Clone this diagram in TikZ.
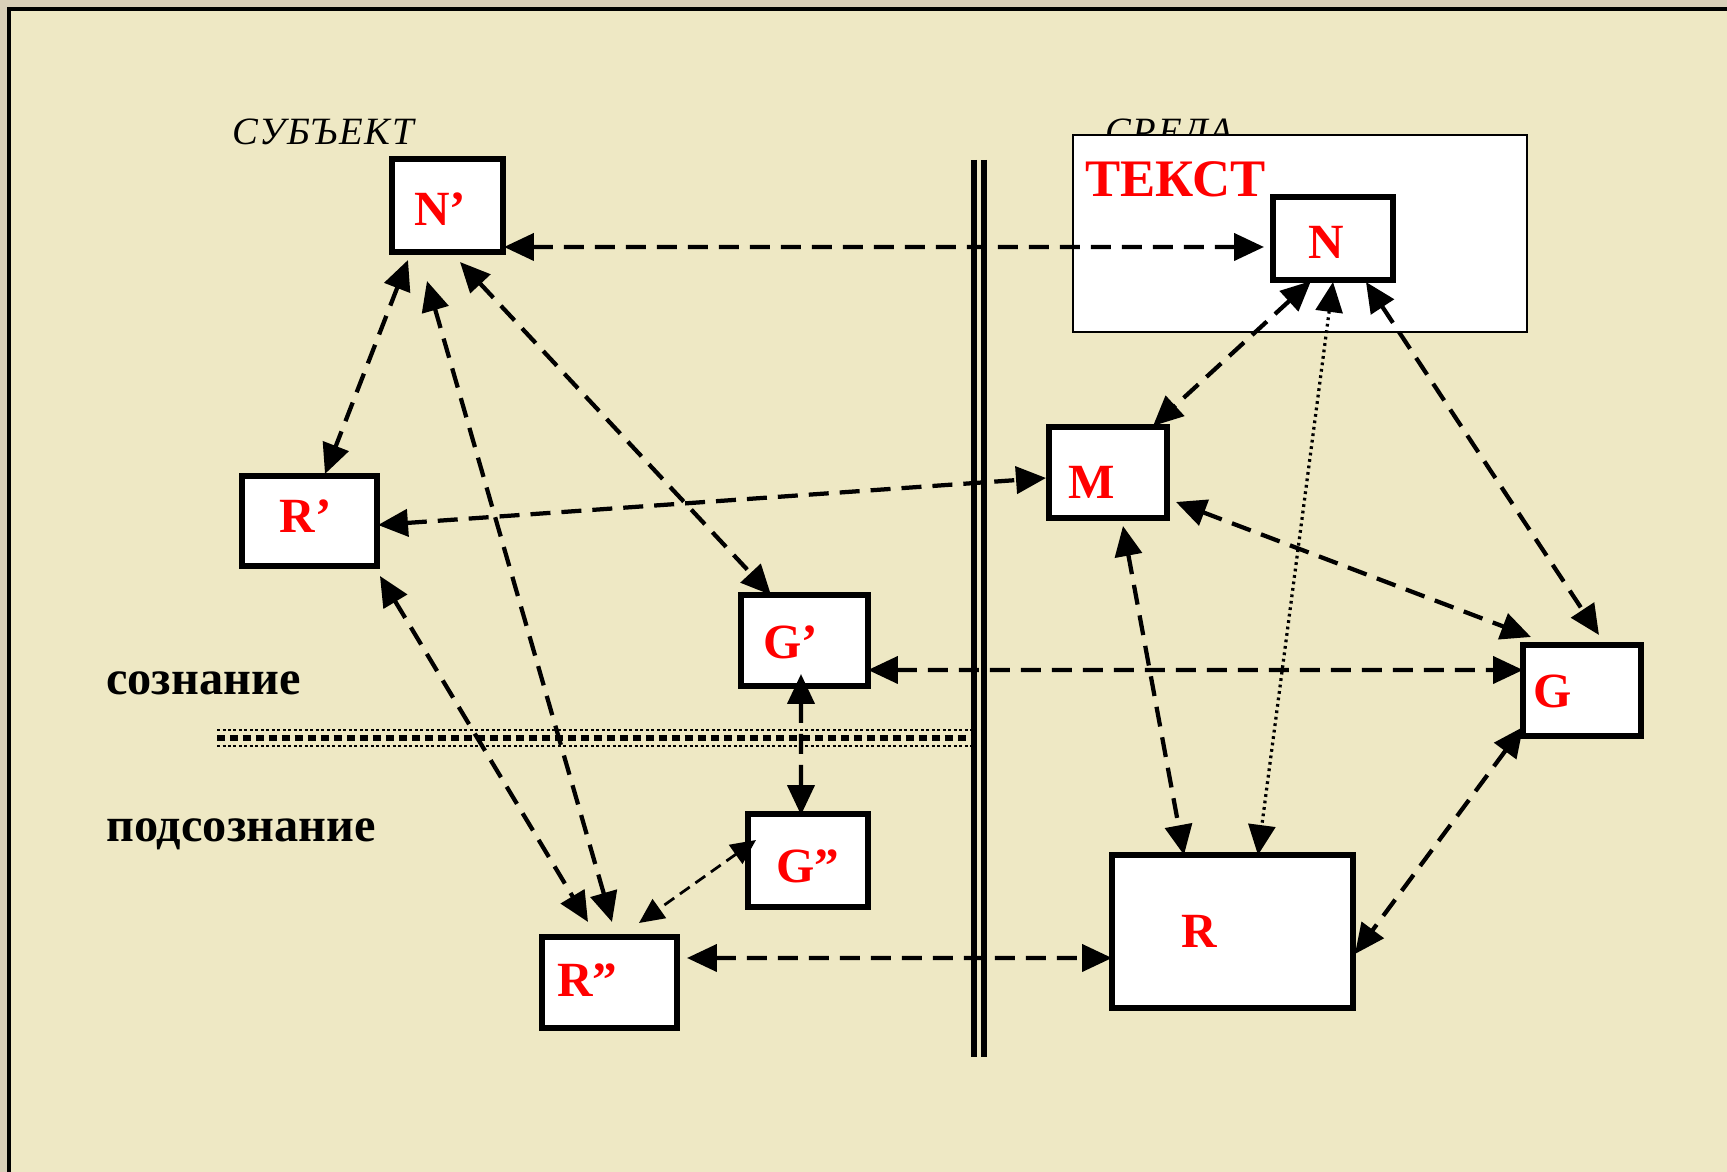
\documentclass[tikz,border=0pt]{standalone}
\usepackage{fontspec}
\setmainfont{Liberation Serif}
\usetikzlibrary{arrows.meta}
\definecolor{bg}{RGB}{238,232,196}
\definecolor{outerbg}{RGB}{217,207,185}
\definecolor{lblred}{RGB}{255,0,0}
\newcommand{\lowr}[2]{\raisebox{#1}[\height][\depth]{#2}}
\tikzset{
  box/.style={draw=black, line width=0.11cm, fill=white, anchor=north west,
    inner ysep=0pt, outer sep=0pt, align=left, text=lblred,
    font=\fontsize{28}{28}\selectfont\bfseries},
  bigtip/.tip={Triangle[length=0.6cm,width=0.54cm]},
  smalltip/.tip={Triangle[length=0.5cm,width=0.46cm]},
  link/.style={line width=0.085cm, dash pattern=on 0.4cm off 0.22cm, bigtip-bigtip},
  thinlink/.style={line width=0.055cm, dash pattern=on 0.24cm off 0.14cm, smalltip-smalltip},
  dotlink/.style={line width=0.065cm, dash pattern=on 0.055cm off 0.075cm, bigtip-bigtip},
  caption/.style={anchor=base west, inner sep=0pt, font=\fontsize{27.5}{27.5}\selectfont\bfseries},
  side/.style={anchor=base west, inner sep=0pt, font=\fontsize{22}{22}\selectfont\itshape\addfontfeatures{LetterSpace=4.5}},
}
\begin{document}
\begin{tikzpicture}[x=0.02cm,y=-0.02cm]
\useasboundingbox (0,0) rectangle (1727,1172);
\fill[outerbg] (0,0) rectangle (1727,1172);
\fill[bg] (9,9) rectangle (1727,1172);
\draw[line width=0.07cm] (9,1172) -- (9,9) -- (1727,9);

% headings
\node[side] (subj) at (232,145) {СУБЪЕКТ};
\node[side] (sreda) at (1105,145) {СРЕДА};

% text container
\node[draw=black, line width=0.05cm, fill=white, anchor=north west, outer sep=0pt,
  minimum width=9.08cm, minimum height=3.94cm, inner sep=0pt] (txt) at (1073,135) {};
\node[anchor=base west, inner sep=0pt, text=lblred, font=\fontsize{30}{30}\selectfont\bfseries] (txtlbl) at (1085,197) {ТЕКСТ};

% separator lines
\draw[line width=0.11cm] (974,160) -- (974,1057);
\draw[line width=0.11cm] (984,160) -- (984,1057);
\draw[line width=0.05cm, dash pattern=on 0.06cm off 0.05cm] (217,730) -- (971,730);
\draw[line width=0.12cm, dash pattern=on 0.16cm off 0.1cm] (217,738) -- (971,738);
\draw[line width=0.05cm, dash pattern=on 0.06cm off 0.05cm] (217,746) -- (971,746);

\node[caption] (soz) at (106,694) {сознание};
\node[caption] (podsoz) at (106,841) {подсознание};

% boxes
\node[box, minimum height=1.86cm, inner xsep=0.44cm, text width=1.34cm] (Np) at (392,159) {\lowr{-0.066cm}{N’}};
\node[box, minimum height=1.8cm, inner xsep=0.76cm, text width=1.18cm] (Rp) at (242,476) {\lowr{0.088cm}{R’}};
\node[box, minimum height=1.82cm, inner xsep=0.44cm, text width=1.66cm] (Gp) at (741,595) {\lowr{-0.044cm}{G’}};
\node[box, minimum height=1.86cm, inner xsep=0.56cm, text width=1.28cm] (Gpp) at (748,814) {\lowr{-0.11cm}{G”}};
\node[box, minimum height=1.82cm, inner xsep=0.3cm, text width=2.1cm] (Rpp) at (542,937) {\lowr{0.044cm}{R”}};
\node[box, minimum height=1.66cm, inner xsep=0.7cm, text width=1.0cm] (N) at (1273,197) {\lowr{-0.088cm}{N}};
\node[box, minimum height=1.82cm, inner xsep=0.38cm, text width=1.6cm] (M) at (1049,427) {\lowr{-0.2cm}{M}};
\node[box, minimum height=1.82cm, inner xsep=0.2cm, text width=1.96cm] (G) at (1523,645) {\lowr{-0.02cm}{G}};
\node[box, minimum height=3.06cm, inner xsep=1.38cm, text width=2.06cm] (R) at (1112,855) {R};

% connectors
\draw[link] ([shift={(1,-5)}]Np.south east) -- ([shift={(-9,8.5)}]N.west);
\draw[link] ([shift={(-39.5,8)}]Np.south) -- ([shift={(15.5,-2)}]Rp.north);
\draw[link] ([shift={(-20.5,29)}]Np.south) -- ([shift={(2.5,-15)}]Rpp.north);
\draw[link] ([shift={(12.5,10)}]Np.south) -- ([shift={(-33.5,0)}]Gp.north);
\draw[link] ([shift={(1,4)}]Rp.east) -- ([shift={(-3,5.5)}]M.west);
\draw[link] ([shift={(3,10)}]Rp.south east) -- ([shift={(-21.5,-15)}]Rpp.north);
\draw[link] ([shift={(-3.5,-12)}]Gp.south) -- ([shift={(-7,1)}]Gpp.north);
\draw[thinlink] ([shift={(8,-20.5)}]Gpp.west) -- ([shift={(29.5,-14)}]Rpp.north);
\draw[link] ([shift={(0,29.5)}]Gp.east) -- ([shift={(0,-20.5)}]G.west);
\draw[link] ([shift={(10,-24.5)}]Rpp.east) -- ([shift={(0,26.5)}]R.west);
\draw[link] ([shift={(-22,1)}]N.south) -- ([shift={(45,-1)}]M.north);
\draw[dotlink] ([shift={(0,2)}]N.south) -- ([shift={(25.5,0)}]R.north);
\draw[link] ([shift={(33,2)}]N.south) -- ([shift={(17,-10)}]G.north);
\draw[link] ([shift={(9,29.5)}]M.east) -- ([shift={(-51,-8)}]G.north);
\draw[link] ([shift={(15,8)}]M.south) -- ([shift={(-48.5,0)}]R.north);
\draw[link] ([shift={(0,-9)}]G.south west) -- ([shift={(2,22.5)}]R.east);
\end{tikzpicture}
\end{document}
